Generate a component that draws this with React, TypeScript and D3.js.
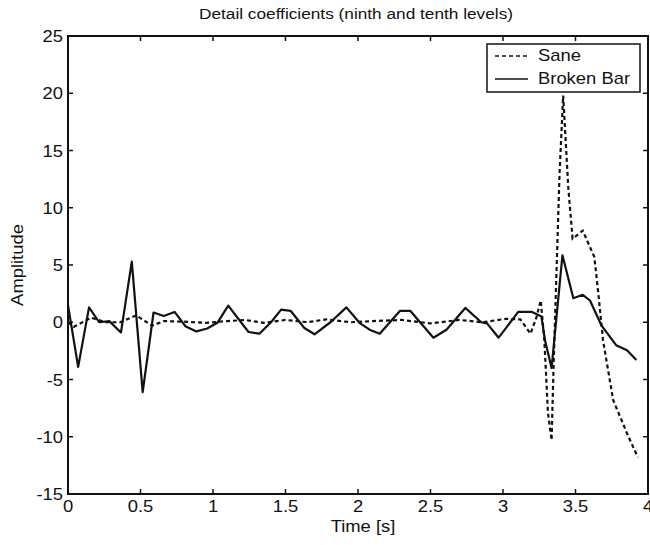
import React from "react";
import * as d3 from "d3";

const TITLE = "Detail coefficients (ninth and tenth levels)";
const X_LABEL = "Time [s]";
const Y_LABEL = "Amplitude";
const X_TICKS = [0, 0.5, 1, 1.5, 2, 2.5, 3, 3.5, 4];
const X_TICK_LABELS = ["0", "0.5", "1", "1.5", "2", "2.5", "3", "3.5", "4"];
const Y_TICKS = [-15, -10, -5, 0, 5, 10, 15, 20, 25];
const Y_TICK_LABELS = ["-15", "-10", "-5", "0", "5", "10", "15", "20", "25"];
const SERIES_NAMES = ["Sane", "Broken Bar"];

const BROKEN_T = [
  0.0, 0.07, 0.145, 0.215, 0.285, 0.365, 0.44, 0.515, 0.59, 0.66, 0.735, 0.81,
  0.885, 0.96, 1.03, 1.105, 1.245, 1.32, 1.4, 1.47, 1.535, 1.63, 1.7, 1.81,
  1.92, 2.01, 2.08, 2.15, 2.29, 2.36, 2.52, 2.61, 2.74, 2.85, 2.89, 2.97,
  3.105, 3.2, 3.265, 3.29, 3.335, 3.41, 3.485, 3.55, 3.6, 3.68, 3.78, 3.855,
  3.92,
];
const BROKEN_V = [
  1.5, -3.9, 1.3, 0.0, 0.1, -0.9, 5.3, -6.1, 0.85, 0.55, 0.9, -0.35, -0.8,
  -0.55, -0.05, 1.45, -0.85, -1.0, 0.0, 1.1, 1.0, -0.5, -1.05, 0.0, 1.3,
  -0.05, -0.65, -1.0, 1.0, 1.0, -1.35, -0.65, 1.25, 0.0, -0.1, -1.35, 0.9,
  0.9, 0.5, -1.6, -4.0, 5.85, 2.1, 2.4, 1.9, -0.3, -2.0, -2.45, -3.3,
];

const SANE_T = [
  0.0, 0.04, 0.16, 0.26, 0.36, 0.47, 0.58, 0.66, 0.8, 0.95, 1.1, 1.22, 1.35,
  1.5, 1.65, 1.78, 1.95, 2.1, 2.3, 2.5, 2.7, 2.86, 3.02, 3.12, 3.19, 3.23,
  3.26, 3.285, 3.31, 3.335, 3.35, 3.39, 3.415, 3.45, 3.48, 3.55, 3.63, 3.66,
  3.69, 3.76, 3.855, 3.93,
];
const SANE_V = [
  0.0, -0.4, 0.4, 0.0, 0.0, 0.6, -0.3, 0.1, 0.05, -0.05, 0.1, 0.2, -0.05, 0.2,
  0.0, 0.25, 0.0, 0.1, 0.2, -0.1, 0.2, 0.0, 0.3, 0.25, -1.0, 0.4, 1.9, -1.5,
  -7.9, -10.3, -3.3, 13.0, 19.8, 11.8, 7.3, 8.0, 5.7, 2.2, -1.6, -6.8, -9.7,
  -11.8,
];

const W = 650;
const H = 545;
const M = { left: 68, right: 648, top: 36, bottom: 494 };
const FONT = "Liberation Sans, Arial, Helvetica, sans-serif";
const INK = "#111";
const SX = 1.15;

function T(props: {
  x: number;
  y: number;
  size: number;
  anchor?: string;
  rotate?: number;
  children: React.ReactNode;
}) {
  const { x, y, size, anchor = "start", rotate = 0, children } = props;
  const tf = rotate
    ? `translate(${x},${y}) rotate(${rotate}) scale(${SX},1)`
    : `translate(${x},${y}) scale(${SX},1)`;
  return (
    <text transform={tf} fontSize={size} textAnchor={anchor} fill={INK}>
      {children}
    </text>
  );
}

export default function App() {
  const x = d3.scaleLinear().domain([0, 4]).range([M.left, M.right]);
  const y = d3.scaleLinear().domain([-15, 25]).range([M.bottom, M.top]);

  const line = d3
    .line<[number, number]>()
    .x((d) => x(d[0]))
    .y((d) => y(d[1]));

  const sane: [number, number][] = SANE_T.map((t, i) => [t, SANE_V[i]]);
  const broken: [number, number][] = BROKEN_T.map((t, i) => [t, BROKEN_V[i]]);

  const tickLen = 5;

  return (
    <svg
      width={W}
      height={H}
      style={{ position: "absolute", left: 0, top: 0, background: "#fff" }}
      fontFamily={FONT}
    >
      <rect x={0} y={0} width={W} height={H} fill="#fff" />
      <T x={356} y={19} size={15} anchor="middle">
        {TITLE}
      </T>

      <path d={line(sane) || ""} fill="none" stroke={INK} strokeWidth={2.2} strokeDasharray="4,3" />
      <path d={line(broken) || ""} fill="none" stroke={INK} strokeWidth={2.2} strokeLinejoin="round" />

      <rect
        x={M.left}
        y={M.top}
        width={M.right - M.left}
        height={M.bottom - M.top}
        fill="none"
        stroke={INK}
        strokeWidth={2}
      />

      {X_TICKS.map((t, i) => (
        <g key={"xt" + i}>
          <line x1={x(t)} x2={x(t)} y1={M.bottom} y2={M.bottom - tickLen} stroke={INK} strokeWidth={1.5} />
          <line x1={x(t)} x2={x(t)} y1={M.top} y2={M.top + tickLen} stroke={INK} strokeWidth={1.5} />
          <T x={x(t)} y={M.bottom + 18} size={16} anchor="middle">
            {X_TICK_LABELS[i]}
          </T>
        </g>
      ))}
      {Y_TICKS.map((v, i) => (
        <g key={"yt" + i}>
          <line x1={M.left} x2={M.left + tickLen} y1={y(v)} y2={y(v)} stroke={INK} strokeWidth={1.5} />
          <line x1={M.right} x2={M.right - tickLen} y1={y(v)} y2={y(v)} stroke={INK} strokeWidth={1.5} />
          <T x={M.left - 5} y={y(v) + 6} size={16} anchor="end">
            {Y_TICK_LABELS[i]}
          </T>
        </g>
      ))}

      <T x={363} y={532} size={16} anchor="middle">
        {X_LABEL}
      </T>
      <T x={23} y={(M.top + M.bottom) / 2} size={16} anchor="middle" rotate={-90}>
        {Y_LABEL}
      </T>

      <g>
        <rect x={487} y={44} width={153} height={48} fill="#fff" stroke={INK} strokeWidth={1.5} />
        <line x1={495} x2={528} y1={56} y2={56} stroke={INK} strokeWidth={1.5} strokeDasharray="4,3" />
        <T x={538} y={61} size={16}>
          {SERIES_NAMES[0]}
        </T>
        <line x1={495} x2={528} y1={79} y2={79} stroke={INK} strokeWidth={1.5} />
        <T x={538} y={84} size={16}>
          {SERIES_NAMES[1]}
        </T>
      </g>
    </svg>
  );
}
